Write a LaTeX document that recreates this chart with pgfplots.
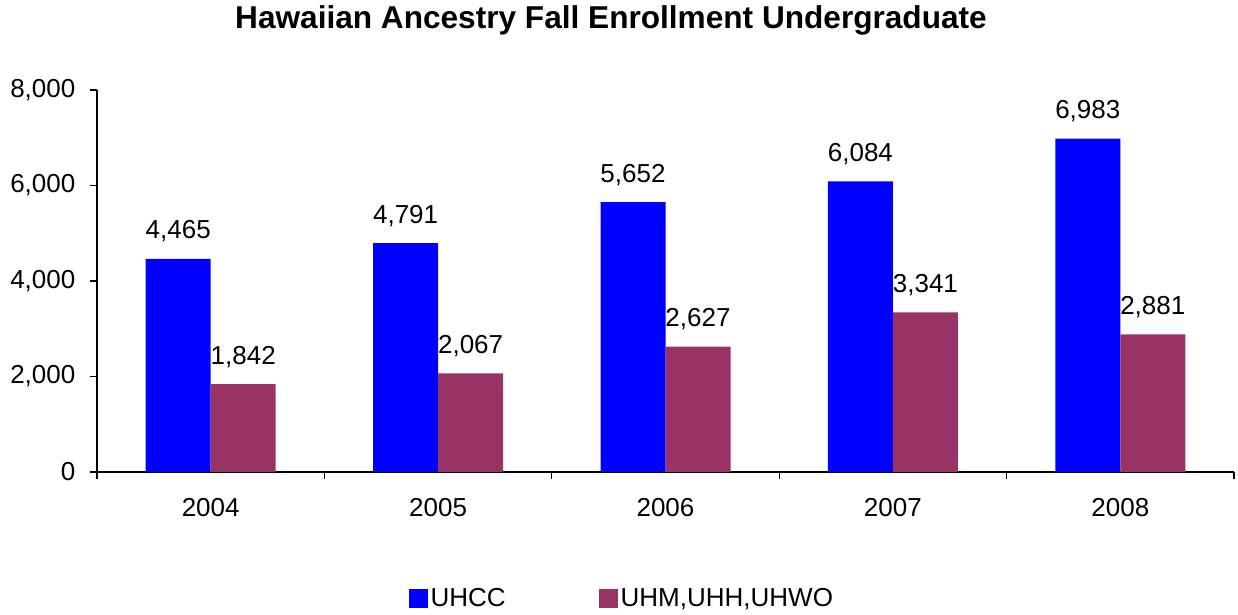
\documentclass[border=0pt]{standalone}
\usepackage{pgfplots}
\pgfplotsset{compat=1.18}
\usepackage{fontspec}
\setmainfont{Liberation Sans}
\definecolor{uhcc}{RGB}{0,0,255}
\definecolor{uhm}{RGB}{153,51,102}
\begin{document}
\begin{tikzpicture}
\useasboundingbox (0,0) rectangle (619pt,307.5pt);
\node[font=\fontsize{15.8}{18}\selectfont\bfseries, anchor=base] at (305.5pt,293pt) {Hawaiian Ancestry Fall Enrollment Undergraduate};
\begin{axis}[
  at={(48.5pt,71.5pt)}, anchor=south west,
  scale only axis, width=568.5pt, height=191pt,
  ybar=0pt, bar width=32.5pt,
  xmin=-0.5, xmax=4.5, ymin=0, ymax=8000,
  axis x line*=bottom, axis y line*=left,
  axis line style={black, line width=0.6pt},
  xtick={0,1,2,3,4},
  xticklabels={2004,2005,2006,2007,2008},
  minor xtick={-0.5,0.5,1.5,2.5,3.5,4.5},
  major x tick style={draw=none},
  minor x tick style={black, line width=0.6pt},
  ytick={0,2000,4000,6000,8000},
  ytick style={black, line width=0.6pt},
  tick align=outside,
  major tick length=3.3pt, minor tick length=3.5pt,
  scaled y ticks=false,
  /pgf/number format/.cd, 1000 sep={,}, assume math mode=true, /pgfplots/.cd,
  ticklabel style={font=\fontsize{13}{15}\selectfont},
  yticklabel style={xshift=-4pt},
  xticklabel style={yshift=-6.5pt},
  nodes near coords,
  every node near coord/.append style={font=\fontsize{13}{15}\selectfont, anchor=base, inner sep=0pt, yshift=10pt, black},
  legend style={at={(0.462,-0.332)}, anchor=center, draw=none, legend columns=2,
    font=\fontsize{13}{15}\selectfont,
    /tikz/every even column/.append style={column sep=45pt},
    nodes={inner sep=1.5pt}},
  legend image code/.code={\fill[#1] (0pt,-4.75pt) rectangle (9.5pt,4.75pt);},
]
\addplot[fill=uhcc, draw=none] coordinates {(0,4465) (1,4791) (2,5652) (3,6084) (4,6983)};
\addplot[fill=uhm, draw=none] coordinates {(0,1842) (1,2067) (2,2627) (3,3341) (4,2881)};
\legend{UHCC, {UHM,UHH,UHWO}}
\end{axis}
\end{tikzpicture}
\end{document}
